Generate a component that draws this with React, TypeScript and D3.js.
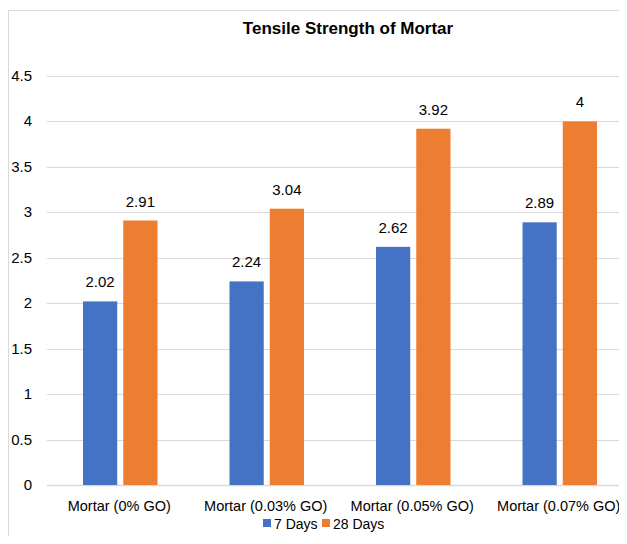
import { useEffect, useRef } from "react"
import * as d3 from "d3"

const categories = ["Mortar (0% GO)", "Mortar (0.03% GO)", "Mortar (0.05% GO)", "Mortar (0.07% GO)"]
const seriesNames = ["7 Days", "28 Days"]
const days7 = [2.02, 2.24, 2.62, 2.89]
const days28 = [2.91, 3.04, 3.92, 4]
const yTicks = [0, 0.5, 1, 1.5, 2, 2.5, 3, 3.5, 4, 4.5]
const colors = ["#4472C4", "#ED7D31"]

const FONT = "'Liberation Sans Narrow', 'Arial Narrow', 'Liberation Sans', sans-serif"

export default function App() {
  const svgRef = useRef<SVGSVGElement>(null)

  useEffect(() => {
    if (!svgRef.current) return
    const width = 627
    const svg = d3.select(svgRef.current)
    svg.selectAll("*").remove()

    // chart frame (cropped on right/bottom)
    svg
      .append("rect")
      .attr("x", 8.5)
      .attr("y", 10.5)
      .attr("width", 700)
      .attr("height", 600)
      .attr("fill", "#fff")
      .attr("stroke", "#d9d9d9")

    const margin = { top: 76, left: 47, bottom: 485 }
    const plotRight = 633

    const x = d3.scaleBand().domain(categories).range([margin.left, plotRight]).paddingInner(0).paddingOuter(0)
    const inner = d3.scaleBand().domain(seriesNames).range([36, x.bandwidth() - 36]).paddingInner(0.15)
    const y = d3.scaleLinear().domain([0, 4.5]).range([margin.bottom, margin.top])

    // title
    svg
      .append("text")
      .attr("x", 348)
      .attr("y", 34)
      .attr("text-anchor", "middle")
      .attr("font-family", FONT)
      .attr("font-weight", "bold")
      .attr("font-size", 17)
      .attr("fill", "#000")
      .text("Tensile Strength of Mortar")

    // grid
    svg
      .append("g")
      .selectAll("line")
      .data(yTicks)
      .join("line")
      .attr("x1", margin.left)
      .attr("x2", width)
      .attr("y1", (d) => Math.round(y(d)) + 0.5)
      .attr("y2", (d) => Math.round(y(d)) + 0.5)
      .attr("stroke", "#d9d9d9")
      .attr("stroke-width", (d) => (d === 0 ? 1.5 : 1))

    // y tick labels
    svg
      .append("g")
      .selectAll("text")
      .data(yTicks)
      .join("text")
      .attr("x", 32)
      .attr("y", (d) => y(d) + 5)
      .attr("text-anchor", "end")
      .attr("font-family", FONT)
      .attr("font-size", 15)
      .attr("fill", "#000")
      .text((d) => String(d))

    const series = [days7, days28]
    series.forEach((vals, si) => {
      const g = svg.append("g")
      g.selectAll("rect")
        .data(vals)
        .join("rect")
        .attr("x", (_, i) => (x(categories[i]) || 0) + (inner(seriesNames[si]) || 0))
        .attr("y", (d) => y(d))
        .attr("width", inner.bandwidth())
        .attr("height", (d) => y(0) - y(d))
        .attr("fill", colors[si])
      g.selectAll("text")
        .data(vals)
        .join("text")
        .attr("x", (_, i) => (x(categories[i]) || 0) + (inner(seriesNames[si]) || 0) + inner.bandwidth() / 2)
        .attr("y", (d) => y(d) - 14)
        .attr("text-anchor", "middle")
        .attr("font-family", FONT)
        .attr("font-size", 15)
        .attr("fill", "#000")
        .text((d) => String(d))
    })

    // category labels
    svg
      .append("g")
      .selectAll("text")
      .data(categories)
      .join("text")
      .attr("x", (d) => (x(d) || 0) + x.bandwidth() / 2 - 1)
      .attr("y", 511)
      .attr("text-anchor", "middle")
      .attr("font-family", FONT)
      .attr("font-size", 14.5)
      .attr("fill", "#000")
      .text((d) => d)

    // legend
    const legendX = [263, 322]
    seriesNames.forEach((name, i) => {
      svg
        .append("rect")
        .attr("x", legendX[i])
        .attr("y", 519)
        .attr("width", 8)
        .attr("height", 8)
        .attr("fill", colors[i])
      svg
        .append("text")
        .attr("x", legendX[i] + 11)
        .attr("y", 529)
        .attr("font-family", FONT)
        .attr("font-size", 14)
        .attr("fill", "#000")
        .text(name)
    })
  }, [])

  return (
    <div style={{ width: 627, height: 544, overflow: "hidden", margin: -8 }}>
      <svg ref={svgRef} width={627} height={544} style={{ display: "block" }} />
    </div>
  )
}
